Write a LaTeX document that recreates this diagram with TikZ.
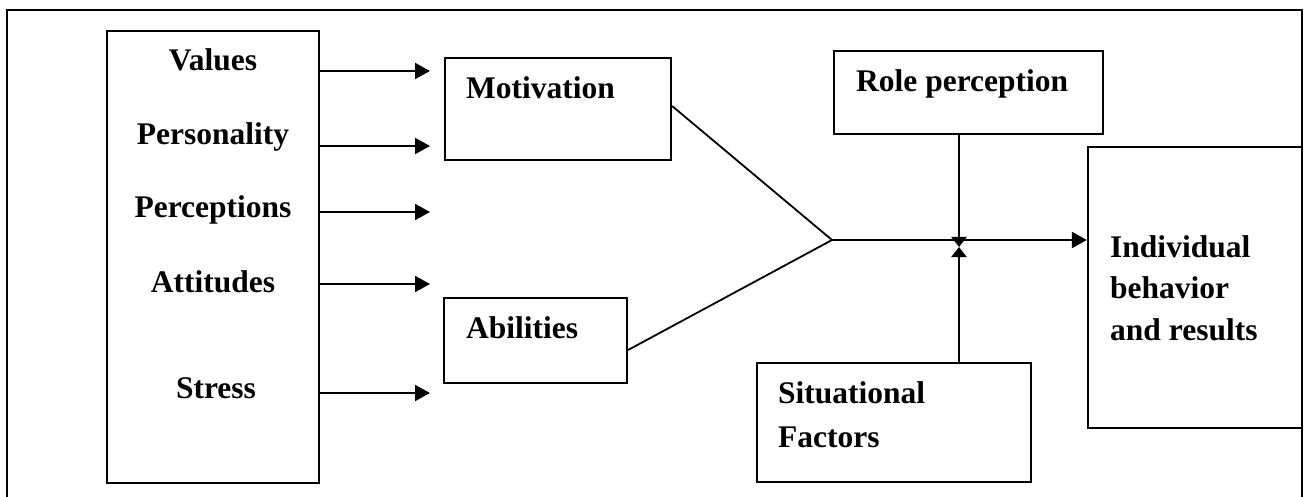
\documentclass[tikz,border=0pt]{standalone}
\usepackage{fontspec}
\setmainfont{Liberation Serif}
\usetikzlibrary{arrows.meta}

\begin{document}
\begin{tikzpicture}[x=1pt,y=-1pt,
        box/.style={draw,line width=2.2pt,inner sep=0pt},
        lbl/.style={inner sep=0pt,font=\fontsize{31.5}{41.5}\selectfont\bfseries},
        arr/.style={line width=2.2pt,-{Triangle[length=15pt,width=16pt]}},
        tip/.style={line width=2.2pt,-{Triangle[length=10pt,width=15pt]}},
        joinline/.style={line width=1.8pt}]
        \useasboundingbox (0,0) rectangle (1309,497);
        \draw [line width=2.2pt] (7,497) -- (7,10) -- (1302,10) -- (1302,497);
        \node [box,minimum width=212,minimum height=452] (traits) at (213,257) {};
        \node [lbl,anchor=base] (values) at (213,71) {Values};
        \node [lbl,anchor=base] (person) at (213,145) {Personality};
        \node [lbl,anchor=base] (percep) at (213,218) {Perceptions};
        \node [lbl,anchor=base] (attit) at (213,292) {Attitudes};
        \node [lbl,anchor=base] (stress) at (216,398) {Stress};
        \node [box,minimum width=226,minimum height=102] (motiv) at (558,109) {};
        \node [lbl,anchor=base west] at (466,99) {Motivation};
        \node [box,minimum width=183,minimum height=85] (abil) at (535.5,340.5) {};
        \node [lbl,anchor=base west] at (466,338) {Abilities};
        \node [box,minimum width=269,minimum height=83] (role) at (968.5,92.5) {};
        \node [lbl,anchor=base west] at (856,92) {Role perception};
        \node [box,minimum width=274,minimum height=119] (situ) at (894,422.5) {};
        \node [lbl,anchor=base west,align=left] at (778,447) {Situational\\[2.5pt]Factors};
        \node [box,minimum width=214,minimum height=281] (indiv) at (1195,287.5) {};
        \node [lbl,anchor=base west,align=left] at (1110,340) {Individual\\behavior\\and results};
        \coordinate (e1) at (430,71);
        \coordinate (e2) at (430,146);
        \coordinate (e3) at (430,212);
        \coordinate (e4) at (430,284);
        \coordinate (e5) at (430,393);
        \foreach \e in {e1,e2,e3,e4,e5}
            \draw [arr] (traits.east |- \e) -- (\e);
        \coordinate (joint) at (832,240);
        \coordinate (hub) at (959,247);
        \draw [joinline] ([yshift=3pt]motiv.east) -- (joint);
        \draw [joinline] ([yshift=-9.5pt]abil.east) -- (joint);
        \draw [arr] (joint) -- (joint -| indiv.west);
        \draw [tip] (role.south -| hub) -- (hub);
        \draw [tip] (situ.north -| hub) -- (hub);
\end{tikzpicture}
\end{document}
